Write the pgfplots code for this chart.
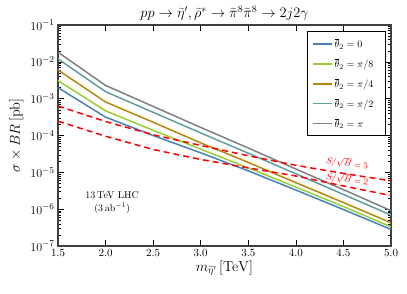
\documentclass[border=0pt]{standalone}
\usepackage{pgfplots}
\pgfplotsset{compat=1.18}
\definecolor{cblue}{RGB}{70,130,180}
\definecolor{cgreen}{RGB}{154,205,50}
\definecolor{cbrown}{RGB}{184,134,11}
\definecolor{cteal}{RGB}{95,158,160}
\definecolor{cgray}{RGB}{128,128,128}
\pgfplotstableread{
x gray teal brown green blue redA redB
1.5 1.820e-2 1.202e-2 6.026e-3 3.090e-3 1.995e-3 6.310e-4 2.455e-4
2.0 2.291e-3 1.549e-3 8.128e-4 4.677e-4 3.162e-4 2.399e-4 9.550e-5
2.5 6.166e-4 4.266e-4 2.291e-4 1.380e-4 1.000e-4 1.047e-4 4.169e-5
3.0 1.660e-4 1.175e-4 6.310e-5 4.266e-5 3.388e-5 5.370e-5 2.239e-5
3.5 4.571e-5 3.311e-5 1.862e-5 1.318e-5 1.096e-5 2.818e-5 1.318e-5
4.0 1.230e-5 9.120e-6 5.248e-6 3.981e-6 3.311e-6 1.549e-5 7.943e-6
4.5 3.388e-6 2.512e-6 1.514e-6 1.175e-6 9.772e-7 9.333e-6 4.266e-6
5.0 9.120e-7 6.918e-7 4.266e-7 3.311e-7 2.818e-7 5.888e-6 2.344e-6
}\data
\newcommand{\legbox}[1]{\makebox[44pt][l]{#1}}
\begin{document}
\begin{tikzpicture}
\begin{axis}[
  scale only axis,
  width=333pt, height=221pt,
  xmin=1.5, xmax=5.0,
  ymode=log, ymin=1e-7, ymax=1e-1,
  xtick={1.5,2.0,2.5,3.0,3.5,4.0,4.5,5.0},
  xticklabel style={font=\fontsize{10.5}{12}\selectfont, /pgf/number format/fixed,/pgf/number format/fixed zerofill,/pgf/number format/precision=1},
  yticklabel style={font=\fontsize{12.5}{14}\selectfont},
  ytick={1e-7,1e-6,1e-5,1e-4,1e-3,1e-2,1e-1},
  tick align=inside,
  major tick length=6pt, minor tick length=3pt,
  every tick/.style={black, line width=0.5pt},
  axis line style={black!75, line width=1.2pt},
  title={$pp\to\widetilde{\eta}',\widetilde{\rho}^{*}\to\widetilde{\pi}^{8}\widetilde{\pi}^{8}\to 2j2\gamma$},
  title style={font=\fontsize{14}{16}\selectfont, yshift=-5pt},
  xlabel={$m_{\widetilde{\eta}'}\,[\mathrm{TeV}]$},
  ylabel={$\sigma\times BR\,[\mathrm{pb}]$},
  label style={font=\fontsize{14}{16}\selectfont},
  xlabel style={yshift=3pt},
  legend style={at={(0.985,0.972)}, anchor=north east, draw=black, line width=1pt, font=\fontsize{10}{12}\selectfont, row sep=5.5pt, inner xsep=5pt, inner ysep=5pt},
  legend cell align=left,
  legend image code/.code={\draw[#1] (0pt,0pt) -- (19pt,0pt);},
]
\addplot[cblue, line width=1.5pt] table[x=x,y=blue]{\data};
\addlegendentry{\legbox{$\overline{\theta}_2 = 0$}}
\addplot[cgreen, line width=1.5pt] table[x=x,y=green]{\data};
\addlegendentry{\legbox{$\overline{\theta}_2 = \pi/8$}}
\addplot[cbrown, line width=1.5pt] table[x=x,y=brown]{\data};
\addlegendentry{\legbox{$\overline{\theta}_2 = \pi/4$}}
\addplot[cteal, line width=1.5pt] table[x=x,y=teal]{\data};
\addlegendentry{\legbox{$\overline{\theta}_2 = \pi/2$}}
\addplot[cgray, line width=1.5pt] table[x=x,y=gray]{\data};
\addlegendentry{\legbox{$\overline{\theta}_2 = \pi$}}
\addplot[red, line width=1.5pt, dash pattern=on 6pt off 4pt, forget plot] table[x=x,y=redA]{\data};
\addplot[red, line width=1.5pt, dash pattern=on 6pt off 4pt, forget plot] table[x=x,y=redB]{\data};
\node[align=center, font=\fontsize{10}{13}\selectfont] at (axis cs:2.07,1.48e-6) {13\,TeV LHC\\$(3\,\mathrm{ab}^{-1})$};
\node[red, rotate=-8, font=\fontsize{9.5}{11}\selectfont] at (axis cs:4.54,1.76e-5) {$S/\sqrt{B}=5$};
\node[red, rotate=-8, font=\fontsize{9.5}{11}\selectfont] at (axis cs:4.54,6.46e-6) {$S/\sqrt{B}=2$};
\end{axis}
\path (current axis.south west) ++(-58pt,-47pt) coordinate (bbA);
\path (current axis.north east) ++(16pt,25pt) coordinate (bbB);
\path[use as bounding box] (bbA) rectangle (bbB);
\end{tikzpicture}
\end{document}
